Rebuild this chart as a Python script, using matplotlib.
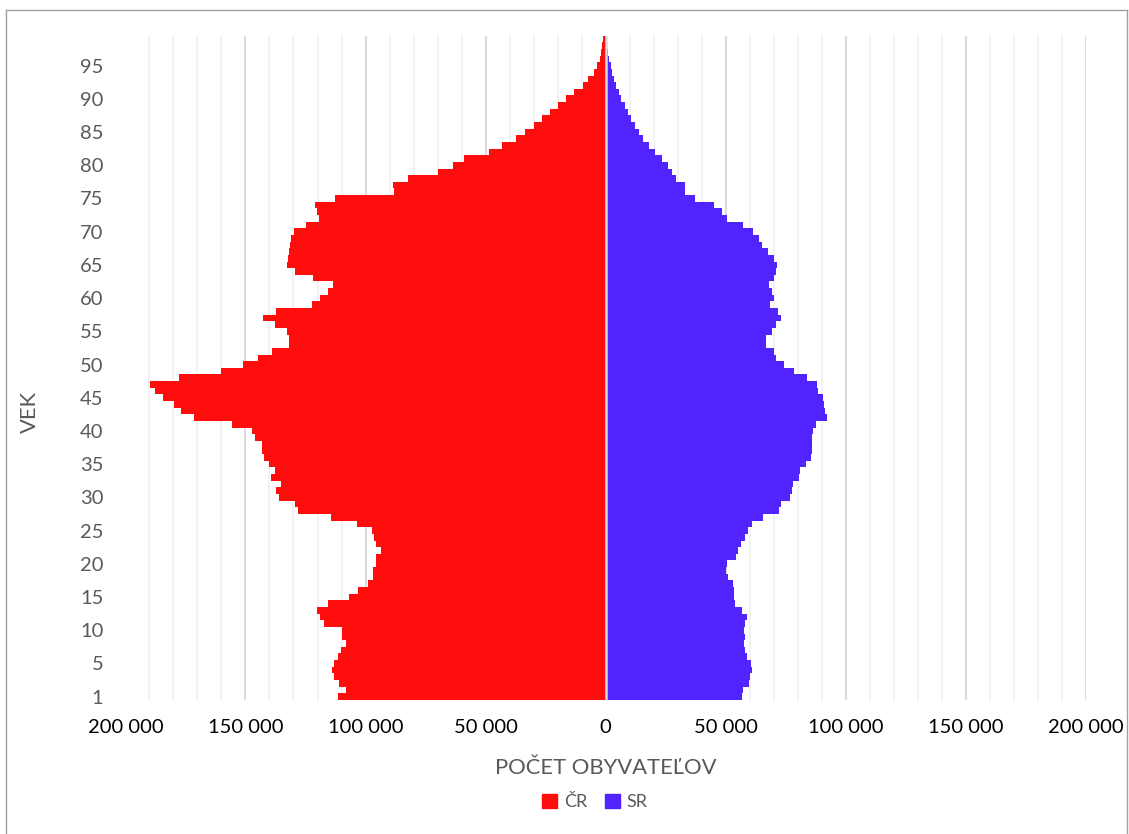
import matplotlib
matplotlib.use("Agg")
import matplotlib.pyplot as plt
import numpy as np
from matplotlib.lines import Line2D
from matplotlib.patches import Patch
from matplotlib.ticker import MultipleLocator, FuncFormatter

plt.rcParams['font.family'] = ['Lato', 'DejaVu Sans']

# age groups, bottom -> top (100 bars, labelled 1, 5, 10 ... 95)
ages = np.arange(100)
age_ticks = list(range(0, 100, 5))
age_labels = ['1'] + [str(a) for a in range(5, 100, 5)]

# population per age, Czech Republic (left) and Slovakia (right)
cr = [111600, 108000, 110900, 113300, 114000, 113300, 111300, 110400, 108000, 109600,
      109900, 117500, 118800, 120200, 115600, 107000, 103200, 99100, 96800, 96800,
      95500, 95800, 93600, 95800, 96600, 97500, 103700, 114300, 128000, 129200,
      136200, 137100, 135100, 139400, 137800, 140000, 142300, 143300, 143300, 145900,
      147200, 155700, 171500, 176800, 179700, 184500, 187900, 189600, 177600, 160400,
      151200, 144700, 138800, 131800, 131800, 132800, 137500, 142700, 137100, 122400,
      118800, 115500, 113600, 121800, 129500, 132800, 132300, 131800, 131400, 131200,
      129600, 124800, 119200, 120200, 121200, 112900, 88000, 88600, 82500, 69800,
      63500, 58900, 48700, 43200, 37200, 33400, 29800, 26400, 23000, 20000,
      16600, 13200, 9500, 7200, 4900, 3600, 2400, 1900, 1400, 1000]

sr = [57000, 57400, 59600, 60000, 60900, 60700, 58900, 58200, 57800, 58100,
      57800, 58200, 59100, 56700, 53900, 53400, 53600, 53100, 51000, 50300,
      50800, 54300, 55400, 56600, 58200, 59200, 60900, 65500, 72200, 73300,
      76900, 77700, 78000, 80800, 81200, 83400, 85700, 86100, 86100, 86200,
      86500, 87600, 92100, 91500, 91100, 90700, 88700, 88300, 84000, 78700,
      74200, 71200, 70000, 66700, 67000, 69400, 70900, 73100, 71900, 68400,
      70200, 69400, 68100, 70200, 71000, 71600, 70200, 67500, 65300, 63900,
      61400, 57100, 50700, 48400, 45100, 37300, 33000, 33000, 29500, 27900,
      26000, 23700, 20800, 18200, 15700, 14000, 12300, 10700, 9200, 8000,
      6500, 5500, 4500, 3600, 2800, 2100, 1500, 1100, 800, 500]

red = '#FF0D0D'
blue = '#5123FF'
W, H = 1129, 834

fig = plt.figure(figsize=(W / 100, H / 100), dpi=100)
ax = fig.add_axes([125.5 / W, 1 - 700 / H, (1085.5 - 125.5) / W, (700 - 35.7) / H])

ax.barh(ages, -np.array(cr), height=1.0, color=red, linewidth=0, zorder=2)
ax.barh(ages, sr, height=1.0, color=blue, linewidth=0, zorder=2)
ax.axvline(0, color='#d9d9d9', lw=1.8, zorder=3)

ax.set_xlim(-200000, 200000)
ax.set_ylim(-0.5, 99.5)
ax.xaxis.set_major_locator(MultipleLocator(50000))
ax.xaxis.set_minor_locator(MultipleLocator(10000))
ax.xaxis.set_major_formatter(FuncFormatter(lambda v, p: f"{abs(int(v)):,}".replace(',', ' ')))
ax.grid(which='minor', axis='x', color='#f2f2f2', lw=1.4, zorder=0)
ax.grid(which='major', axis='x', color='#d9d9d9', lw=1.4, zorder=0)
ax.set_axisbelow(True)

ax.set_yticks(age_ticks)
ax.set_yticklabels(age_labels)
ax.tick_params(axis='y', length=0, pad=16, labelsize=14.5, labelcolor='#595959')
ax.tick_params(axis='x', which='both', length=0, pad=14, labelsize=14.5, labelcolor='#000000')
for s in ax.spines.values():
    s.set_visible(False)

fig.text(606 / W, 1 - 768 / H, 'POČET OBYVATEĽOV', ha='center', va='center',
         fontsize=15.8, color='#595959')
fig.text(30 / W, 1 - 412 / H, 'VEK', ha='center', va='center', rotation=90,
         fontsize=15.8, color='#595959')

handles = [Patch(color=red, label='ČR'), Patch(color=blue, label='SR')]
fig.legend(handles=handles, loc='center', ncol=2, frameon=False,
           bbox_to_anchor=(595 / W, 1 - 802 / H), fontsize=13, labelcolor='#595959',
           handlelength=0.8, handleheight=0.8, handletextpad=0.4, columnspacing=1.0)

# chart border
for xs, ys in [([6, 1127], [9.5, 9.5]), ([6, 6], [9.5, H]), ([1127, 1127], [9.5, H])]:
    fig.add_artist(Line2D([x / W for x in xs], [1 - y / H for y in ys],
                          color='#a0a0a0', lw=1.0))

fig.savefig('out.png', dpi=100)
